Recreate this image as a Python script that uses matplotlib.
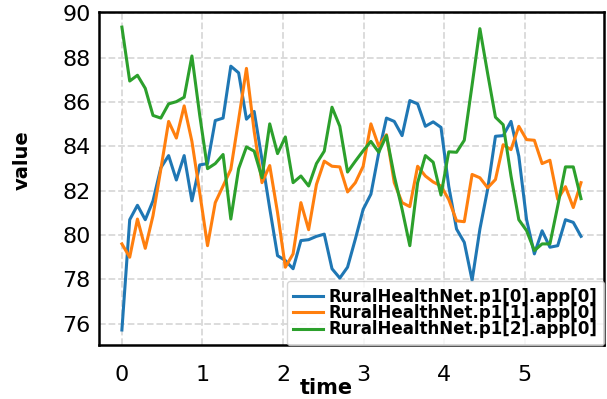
import matplotlib
matplotlib.use('Agg')
import matplotlib.pyplot as plt

# data
time_lst = [0.0, 0.097, 0.193, 0.29, 0.386, 0.483, 0.58, 0.676, 0.773, 0.869,
            0.966, 1.063, 1.159, 1.256, 1.352, 1.449, 1.546, 1.642, 1.739, 1.835,
            1.932, 2.029, 2.125, 2.222, 2.318, 2.415, 2.512, 2.608, 2.705, 2.801,
            2.898, 2.995, 3.091, 3.188, 3.284, 3.381, 3.478, 3.574, 3.671, 3.767,
            3.864, 3.961, 4.057, 4.154, 4.25, 4.347, 4.444, 4.54, 4.637, 4.733,
            4.83, 4.927, 5.023, 5.12, 5.216, 5.313, 5.41, 5.506, 5.603, 5.699]

app0 = [75.72, 80.69, 81.34, 80.69, 81.54, 83.03, 83.58, 82.48, 83.58, 81.54,
        83.16, 83.22, 85.16, 85.27, 87.61, 87.31, 85.22, 85.57, 83.4, 81.2,
        79.07, 78.85, 78.48, 79.75, 79.79, 79.94, 80.04, 78.48, 78.06, 78.55,
        79.82, 81.16, 81.84, 83.7, 85.27, 85.12, 84.48, 86.06, 85.91, 84.9,
        85.1, 84.85, 82.2, 80.27, 79.67, 77.96, 80.27, 82.06, 84.45, 84.48,
        85.12, 83.55, 80.7, 79.15, 80.19, 79.45, 79.52, 80.69, 80.57, 79.94]

app1 = [79.6, 79.0, 80.72, 79.4, 80.87, 82.96, 85.12, 84.37, 85.82, 84.22,
        81.91, 79.52, 81.46, 82.21, 82.96, 85.2, 87.51, 84.67, 82.36, 83.13,
        81.01, 78.55, 79.15, 81.46, 80.24, 82.28, 83.33, 83.1, 83.07, 81.94,
        82.36, 83.1, 85.01, 84.0, 84.52, 82.36, 81.46, 81.28, 83.1, 82.66,
        82.39, 82.21, 81.6, 80.64, 80.6, 82.73, 82.58, 82.13, 82.5, 84.07,
        83.85, 84.9, 84.3, 84.27, 83.22, 83.37, 81.61, 82.18, 81.24, 82.36]

app2 = [89.37, 86.94, 87.2, 86.61, 85.39, 85.27, 85.91, 86.01, 86.21, 88.07,
        85.4, 82.99, 83.22, 83.63, 80.72, 82.99, 83.97, 83.78, 82.58, 85.01,
        83.67, 84.42, 82.36, 82.66, 82.21, 83.22, 83.78, 85.76, 84.9, 82.84,
        83.33, 83.8, 84.22, 83.73, 84.48, 82.66, 81.16, 79.52, 82.36, 83.58,
        83.28, 81.8, 83.75, 83.73, 84.27, 86.76, 89.3, 87.28, 85.31, 84.97,
        82.66, 80.69, 80.2, 79.3, 79.6, 79.6, 81.31, 83.07, 83.07, 81.64]

labels = ['RuralHealthNet.p1[0].app[0]',
          'RuralHealthNet.p1[1].app[0]',
          'RuralHealthNet.p1[2].app[0]']

# figure and axes
fig = plt.figure(figsize=(6.07, 3.99), dpi=100)
ax = fig.add_axes([0.163, 0.135, 0.832, 0.835])

for series, lab in zip([app0, app1, app2], labels):
    ax.plot(time_lst, series, linewidth=2.2, label=lab)

# format
ax.grid(True, linestyle='--', color='#d9d9d9', linewidth=1.3)
ax.set_axisbelow(True)
ax.set_xticks([0, 1, 2, 3, 4, 5])
ax.set_yticks([76, 78, 80, 82, 84, 86, 88, 90])
ax.tick_params(axis='both', length=0, labelsize=16)
ax.tick_params(axis='y', pad=6)
ax.tick_params(axis='x', pad=14)
for sp in ax.spines.values():
    sp.set_linewidth(1.8)

ax.set_xlabel('time', fontsize=15, fontweight='bold')
ax.set_ylabel('value', fontsize=14, fontweight='bold')
ax.xaxis.set_label_coords(0.451, -0.099)
ax.yaxis.set_label_coords(-0.133, 0.556)

ax.legend(loc='lower left', bbox_to_anchor=(0.372, 0.0), borderaxespad=0,
          prop={'weight': 'bold', 'size': 12}, labelspacing=-0.1,
          handlelength=1.8, handletextpad=0.3, borderpad=0.4)

fig.savefig('out.png', dpi=100)
